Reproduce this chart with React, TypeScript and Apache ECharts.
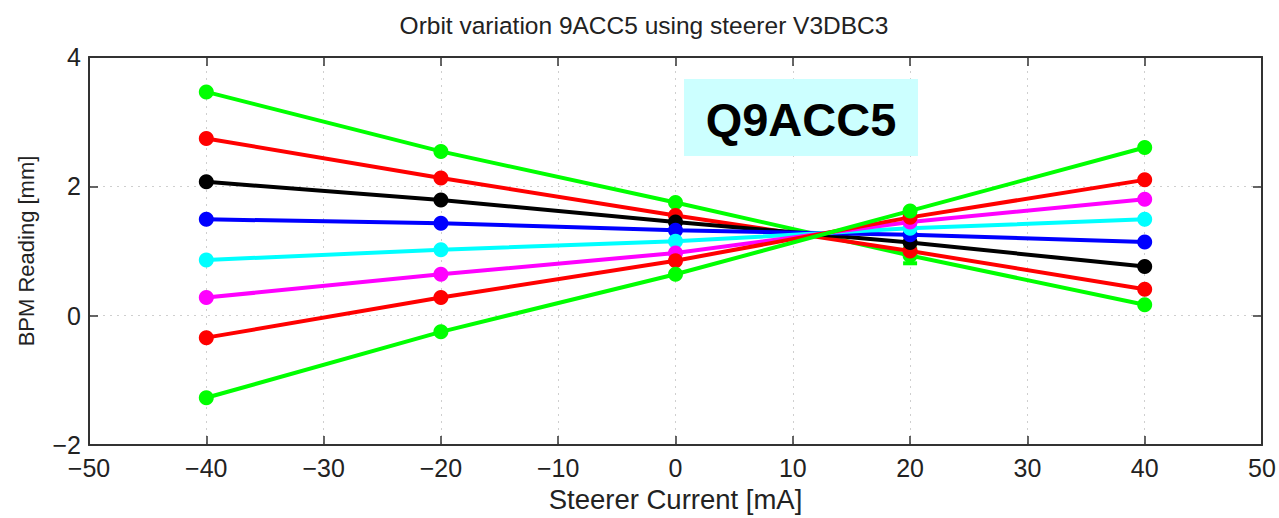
import React, { useEffect, useRef } from "react";
import * as echarts from "echarts";

// Steerer current settings [mA]
const currents = [-40, -20, 0, 20, 40];

// BPM readings [mm] per scan line
const greenDown = [3.46, 2.54, 1.75, 0.93, 0.17];
const redDown = [2.74, 2.13, 1.55, 1.0, 0.41];
const blackLine = [2.07, 1.79, 1.45, 1.13, 0.76];
const blueLine = [1.49, 1.43, 1.32, 1.25, 1.14];
const cyanLine = [0.86, 1.02, 1.15, 1.35, 1.49];
const magentaLine = [0.28, 0.64, 0.97, 1.45, 1.8];
const redUp = [-0.34, 0.28, 0.85, 1.52, 2.1];
const greenUp = [-1.27, -0.25, 0.64, 1.62, 2.6];

// Error bar on the falling green line at +20 mA: [x, low, high]
const errorBars = [[20, 0.81, 1.04]];

const xTicks = { min: -50, max: 50, interval: 10 };
const yTicks = { min: -2, max: 4, interval: 2 };

const titleText = "Orbit variation 9ACC5 using steerer V3DBC3";
const xName = "Steerer Current [mA]";
const yName = "BPM Reading [mm]";
const boxLabel = "Q9ACC5";

const lines: { name: string; color: string; data: number[] }[] = [
  { name: "green-down", color: "#00ff00", data: greenDown },
  { name: "red-down", color: "#ff0000", data: redDown },
  { name: "black", color: "#000000", data: blackLine },
  { name: "blue", color: "#0000ff", data: blueLine },
  { name: "cyan", color: "#00ffff", data: cyanLine },
  { name: "magenta", color: "#ff00ff", data: magentaLine },
  { name: "red-up", color: "#ff0000", data: redUp },
  { name: "green-up", color: "#00ff00", data: greenUp },
];

const minus = (v: number) => String(v).replace("-", "\u2212");

export default function App() {
  const ref = useRef<HTMLDivElement>(null);

  useEffect(() => {
    document.body.style.margin = "0";
    const chart = echarts.init(ref.current!, null, { renderer: "svg" });
    const font = "Liberation Sans, Arial, sans-serif";
    const axisColor = "#333";
    const gridLine = { show: true, lineStyle: { color: "#cfcfcf", type: [2, 5] as any, width: 1 } };

    chart.setOption({
      animation: false,
      backgroundColor: "#ffffff",
      title: {
        text: titleText,
        left: 639,
        top: 8,
        textAlign: "center",
        textStyle: { fontFamily: font, fontSize: 24.5, fontWeight: "normal", color: "#222" },
      },
      grid: { left: 89, top: 57, right: 17, bottom: 66 },
      xAxis: [
        {
          type: "value",
          ...xTicks,
          name: xName,
          nameLocation: "middle",
          nameGap: 40,
          nameTextStyle: { fontFamily: font, fontSize: 27.5, color: "#222" },
          axisLine: { show: true, onZero: false, lineStyle: { color: axisColor, width: 2 } },
          axisTick: { show: true, inside: true, length: 9, lineStyle: { color: axisColor, width: 1.5 } },
          axisLabel: { fontFamily: font, fontSize: 25, color: "#222", margin: 10, formatter: minus },
          splitLine: gridLine,
        },
        {
          type: "value",
          ...xTicks,
          position: "top",
          axisLine: { show: true, onZero: false, lineStyle: { color: axisColor, width: 2 } },
          axisTick: { show: true, inside: true, length: 9, lineStyle: { color: axisColor, width: 1.5 } },
          axisLabel: { show: false },
          splitLine: { show: false },
        },
      ],
      yAxis: [
        {
          type: "value",
          ...yTicks,
          name: yName,
          nameLocation: "middle",
          nameGap: 52,
          nameTextStyle: { fontFamily: font, fontSize: 22, color: "#222" },
          axisLine: { show: true, onZero: false, lineStyle: { color: axisColor, width: 2 } },
          axisTick: { show: true, inside: true, length: 9, lineStyle: { color: axisColor, width: 1.5 } },
          axisLabel: { fontFamily: font, fontSize: 25, color: "#222", margin: 8, formatter: minus },
          splitLine: gridLine,
        },
        {
          type: "value",
          ...yTicks,
          position: "right",
          axisLine: { show: true, onZero: false, lineStyle: { color: axisColor, width: 2 } },
          axisTick: { show: true, inside: true, length: 9, lineStyle: { color: axisColor, width: 1.5 } },
          axisLabel: { show: false },
          splitLine: { show: false },
        },
      ],
      series: [
        ...lines.map((l) => ({
          type: "line",
          name: l.name,
          data: currents.map((c, i) => [c, l.data[i]]),
          symbol: "circle",
          symbolSize: 15,
          lineStyle: { color: l.color, width: 4 },
          itemStyle: { color: l.color },
          silent: true,
        })),
        {
          type: "custom",
          name: "error",
          data: errorBars,
          renderItem: (params: any, api: any) => {
            const x = api.value(0);
            const lo = api.coord([x, api.value(1)]);
            const hi = api.coord([x, api.value(2)]);
            const w = 7;
            const style = { stroke: "#00ff00", lineWidth: 4 };
            return {
              type: "group",
              children: [
                { type: "line", shape: { x1: lo[0], y1: lo[1], x2: hi[0], y2: hi[1] }, style },
                { type: "line", shape: { x1: lo[0] - w, y1: lo[1], x2: lo[0] + w, y2: lo[1] }, style },
                { type: "line", shape: { x1: hi[0] - w, y1: hi[1], x2: hi[0] + w, y2: hi[1] }, style },
              ],
            };
          },
        },
      ],
      graphic: [
        {
          type: "rect",
          shape: { x: 684, y: 79, width: 234, height: 77 },
          style: { fill: "#ccffff" },
          z: 10,
        },
        {
          type: "text",
          x: 801,
          y: 119,
          style: {
            text: boxLabel,
            fontFamily: font,
            fontSize: 47,
            fontWeight: "bold",
            fill: "#000",
            align: "center",
            verticalAlign: "middle",
          },
          z: 11,
        },
      ],
    });
    return () => chart.dispose();
  }, []);

  return <div ref={ref} style={{ width: 1279, height: 518 }} />;
}
